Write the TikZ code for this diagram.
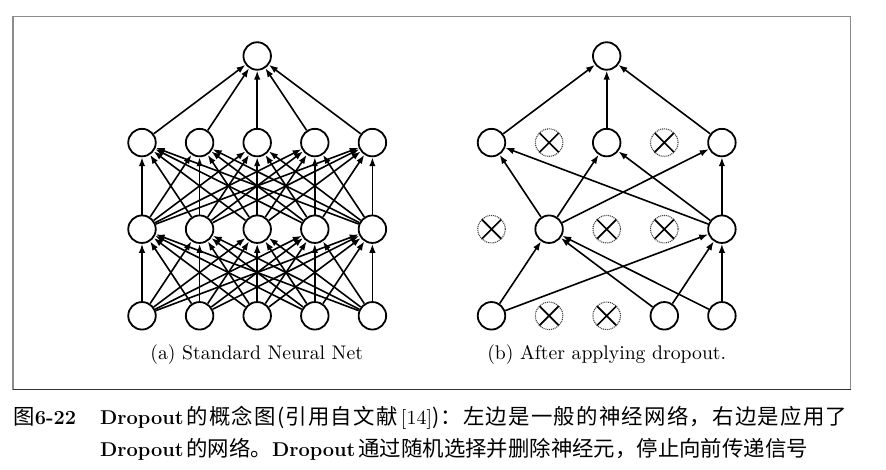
\documentclass[tikz,border=0pt]{standalone}
\usepackage{fontspec}
\newfontfamily\cjk[Scale=1.07]{Noto Sans CJK SC}
\newfontfamily\labfont{lmroman10-regular.otf}
\usetikzlibrary{arrows.meta}
\makeatletter
\newcommand\spr[1]{\spr@loop#1\relax}
\def\spr@loop#1{\ifx#1\relax\else#1\hfil\expandafter\spr@loop\fi}
\makeatother
\begin{document}
\begin{tikzpicture}[x=1pt,y=-1pt,
  neuron/.style={circle,draw=black,line width=1.8pt,minimum size=27.5pt,inner sep=0pt,fill=white},
  dropped/.style={circle,draw=black!75,dash pattern=on 1pt off 0.9pt,line width=1.1pt,minimum size=27.5pt,inner sep=0pt,fill=white,
    path picture={\draw[black,solid,line width=1.7pt] (path picture bounding box.north west)--(path picture bounding box.south east) (path picture bounding box.north east)--(path picture bounding box.south west);}},
  conn/.style={-{Latex[length=9pt,width=6.5pt]},line width=1.6pt},
  sublabel/.style={font=\labfont\fontsize{19.7}{23}\selectfont,inner sep=0pt},
  captext/.style={anchor=base west,inner sep=0pt,font=\fontsize{20}{24}\selectfont}]
\useasboundingbox (0,0) rectangle (886,470);
\draw[black!45,line width=1.3pt] (13,16.3) rectangle (850.7,389.3);
\draw[black!80,line width=1.3pt] (13,389.3) -- (850.7,389.3);
% left network
\foreach \c/\x in {1/142,2/199.6,3/257.2,4/314.8,5/372.4}{
  \node[neuron] (A1\c) at (\x,315.8) {};
  \node[neuron] (A2\c) at (\x,229.2) {};
  \node[neuron] (A3\c) at (\x,142.6) {};
}
\node[neuron] (AT) at (257.2,56) {};
\foreach \i in {1,...,5}{
  \foreach \j in {1,...,5}{
    \draw[conn] (A1\i) -- (A2\j);
    \draw[conn] (A2\i) -- (A3\j);
  }
  \draw[conn] (A3\i) -- (AT);
}
% right network
\node[neuron] (B11) at (491.5,315.8) {};
\node[dropped] (B12) at (549.1,315.8) {};
\node[dropped] (B13) at (606.7,315.8) {};
\node[neuron] (B14) at (664.3,315.8) {};
\node[neuron] (B15) at (721.9,315.8) {};
\node[dropped] (B21) at (491.5,229.2) {};
\node[neuron] (B22) at (549.1,229.2) {};
\node[dropped] (B23) at (606.7,229.2) {};
\node[dropped] (B24) at (664.3,229.2) {};
\node[neuron] (B25) at (721.9,229.2) {};
\node[neuron] (B31) at (491.5,142.6) {};
\node[dropped] (B32) at (549.1,142.6) {};
\node[neuron] (B33) at (606.7,142.6) {};
\node[dropped] (B34) at (664.3,142.6) {};
\node[neuron] (B35) at (721.9,142.6) {};
\node[neuron] (BT) at (606.7,56) {};
\foreach \i in {1,4,5}{
  \foreach \j in {2,5}{
    \draw[conn] (B1\i) -- (B2\j);
  }
}
\foreach \i in {2,5}{
  \foreach \j in {1,3,5}{
    \draw[conn] (B2\i) -- (B3\j);
  }
}
\foreach \i in {1,3,5}{
  \draw[conn] (B3\i) -- (BT);
}
\node[sublabel] (capa) at (256.7,355) {(a) Standard Neural Net};
\node[sublabel] (capb) at (606.7,355) {(b) After applying dropout.};
\node[captext] (fig) at (13.3,424.3) {{\cjk 图}\textbf{6-22}};
\node[captext] (line1) at (100,424.3) {\hbox to 747pt{\textbf{Dropout}\hspace{3pt}{\cjk\spr{的概念图(引用自文献}}\hspace{2pt}{\labfont[14]}{\cjk\spr{)：左边是一般的神经网络，右边是应用}了}}};
\node[captext] (line2) at (100,456.7) {\textbf{Dropout}\hspace{3pt}{\cjk 的网络。}\textbf{Dropout}\hspace{3pt}{\cjk 通过随机选择并删除神经元，停止向前传递信号}};
\end{tikzpicture}
\end{document}
